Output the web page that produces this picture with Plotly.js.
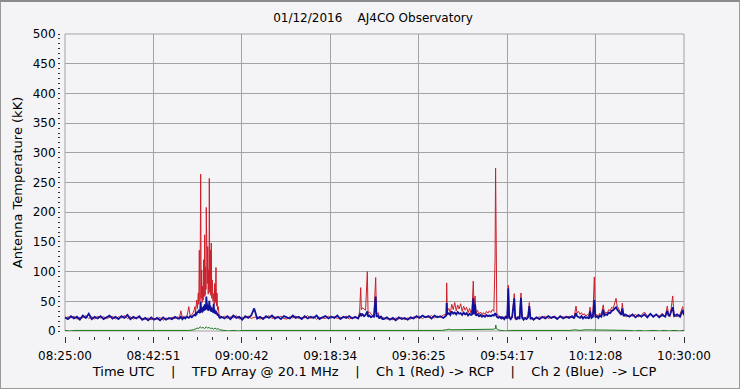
<!DOCTYPE html>
<html><head><meta charset="utf-8">
<script src="https://cdn.plot.ly/plotly-3.0.1.min.js"></script>
<style>
html,body{margin:0;padding:0;background:#f4f4f6;}
#wrap{position:relative;width:740px;height:389px;}
#chart{width:740px;height:389px;}
#frame{position:absolute;left:0;top:0;width:740px;height:389px;box-sizing:border-box;border:1px solid #9a9a9a;border-top:2px solid #8a8a8a;pointer-events:none;}
</style></head>
<body><div id="wrap"><div id="chart"></div><div id="frame"></div></div>
<script>
// Date of observation and axis ticks
const obsDate = [2016, 0, 12];
const startTime = "08:25:00";
const endTime = "10:30:00";
const tickLabels = ["08:25:00","08:42:51","09:00:42","09:18:34","09:36:25","09:54:17","10:12:08","10:30:00"];

// minutes after 08:25:00 UTC (shared by Ch 1 and Ch 2)
const minutesAfterStart = [
  0,0.6,1.2,1.8,2.4,3,3.6,4.2,4.8,5.4, 6,6.6,7.2,7.8,8.4,9,9.6,10.2,10.8,11.4, 12,12.6,13.2,13.8,14.4,15,15.6,16.2,16.8,17.4, 18,18.6,19.2,19.8,20.4,21,21.6,22.2,22.8,
  23.1,23.4,23.7,24,24.3,24.6,25,25.3,25.6,25.9,26.1,
  26.25,26.35,26.45,26.6,26.75,26.92,27.02,27.12,27.26,27.40, 27.50,27.60,27.70,27.81,27.91,28.01,28.11,28.21,28.31,28.41, 28.47,28.53,28.60,28.68,28.75,28.82,28.92,29.02,29.08,29.14, 29.24,29.34,29.44,29.54,29.64,29.75,29.89,30.03,30.13,30.23, 30.36,30.49,30.59,30.69,30.82,30.96,31.1,31.3,
  31.6,32.2,32.8,33.4,34,34.6,35.2,35.8,36.4,37, 37.6,38.2,38.8,39.4,40,40.6,41.2,41.8,42.4,43, 43.6,44.2,44.8,45.4,46,46.6,47.2,47.8,48.4,49, 49.6,50.2,50.8,51.4,52,52.6,53.2,53.8,54.4,55, 55.6,56.2,56.8,57.4,58,58.6,
  59.2,59.5,59.71,59.85,60.1,60.4,60.7,61.05,61.2,61.5, 61.8,62.1,62.4,62.74,62.9,63.2,63.5,63.8,64.1,
  64.4,65,65.6,66.2,66.8,67.4,68,68.6,69.2,69.8, 70.4,71,71.6,72.2,72.8,73.4,74,74.6,75.2,75.8, 76.4,
  77,77.08,77.2,77.5,77.8,78.1,78.4,78.7,79,79.3, 79.6,79.9,80.2,80.5,80.8,81.1,81.4,81.7,82,82.2, 82.45,82.6,82.8,83,83.3,83.6,83.9,84.2,84.5,84.8, 85.1,85.4,85.7,86,86.3,86.6,86.85,86.95,87.05,87.2, 87.5,
  87.8,88.1,88.4,88.7,89,89.3,89.52,89.7,90,90.3, 90.73,90.9,91.2,91.5,91.8,92.08,92.3,92.6,92.9,93.2, 93.5,93.76,94,94.3,94.6,
  95.2,95.8,96.4,97,97.6,98.2,98.8,99.4,100,100.6, 101.2,101.8,102.4,
  102.8,103.19,103.4,103.7,104,104.3,104.6,104.9,105.2,105.5, 105.8,106.02,106.3,106.6,106.89,107.1,107.4,107.7,108,108.3, 108.7,108.9,109.2,109.5,109.8,110.1,110.4,110.7,111,111.28, 111.5,111.8,112.1,112.35,112.54,112.8,113.1,
  113.4,114,114.6,115.2,115.8,116.4,117,117.6,118.2,118.8, 119.4,120,120.6,121.2,121.63,121.9,122.2,122.72,123,123.6, 124.2,124.74,125
];

// Ch 1 (Red) -> RCP, antenna temperature in kK
const ch1RCP = [
  21,24,22,25,20,23,22,26,21,24, 20,25,22,24,21,23,25,20,24,22, 26,21,24,20,23,22,21,20,22,19, 21,20,23,18,22,20,23,21,24,
  22,34,23,22,25,23,41,24,27,31,36,
  41,30,46,52,38,64,45,136,50,264, 55,103,48,75,52,120,58,162,60,108, 70,208,95,204,80,142,62,103,70,257, 65,136,60,148,55,86,50,63,45,80, 48,107,42,64,35,41,28,25,
  22,25,21,24,22,26,20,23,22,25, 21,23,24,20,23,22,26,21,24,22, 25,21,20,24,22,25,21,23,22,26, 21,24,20,23,22,21,25,22,24,21, 23,22,25,20,23,22,
  23,32,73,36,39,37,35,100,30,32, 28,26,29,90,27,31,24,22,23,
  22,20,21,19,22,20,23,19,22,20, 24,22,25,21,24,23,26,22,25,23, 27,
  28,81,33,38,30,45,36,48,34,44, 37,46,33,42,35,40,31,38,30,36, 84,33,59,30,35,28,32,27,31,28, 33,30,34,31,36,33,122,274,122,30, 26,
  22,25,21,24,22,23,77,21,24,22, 63,20,23,21,24,64,20,23,21,24, 22,48,21,23,20,
  21,24,22,25,21,23,25,22,23,24, 22,25,23,
  23,42,30,33,28,31,27,29,25,28, 26,40,25,27,91,26,28,25,30,27, 44,29,32,30,36,34,40,38,46,55, 42,37,33,29,47,27,25,
  24,27,25,28,24,27,32,25,28,24, 27,25,30,24,42,26,24,59,26,24, 28,41,26
];

// Ch 2 (Blue) -> LCP, antenna temperature in kK
const ch2LCP = [
  23,20,25,21,24,19,26,22,29,20, 24,21,25,20,23,26,21,24,20,25, 22,27,20,24,21,25,19,22,18,23, 19,22,18,23,19,22,20,24,21,
  21,24,20,23,21,24,22,25,23,26,27,
  28,25,30,29,33,31,36,34,30,49, 32,38,31,40,33,42,34,45,35,41, 37,58,40,47,36,44,34,42,38,51, 35,43,33,40,32,38,31,46,30,36, 29,34,28,31,26,28,24,22,
  24,21,25,20,26,22,24,19,25,22, 26,38,21,24,20,25,22,26,21,24, 20,25,23,21,26,22,24,20,25,21, 24,22,26,20,23,25,21,24,22,26, 20,24,22,25,21,24,
  21,25,30,26,28,25,27,33,24,26, 23,25,24,58,24,26,21,25,20,
  20,23,19,22,18,23,20,22,19,23, 21,25,22,26,23,25,21,26,23,25, 22,
  26,47,28,30,27,33,29,31,28,32, 29,30,27,31,28,30,26,29,27,28, 55,28,45,26,28,25,27,24,26,24, 27,25,26,25,27,26,30,28,29,24, 22,
  24,21,23,20,24,21,72,23,20,24, 55,23,19,24,20,56,23,19,22,20, 23,42,20,22,19,
  23,20,24,21,25,22,24,20,25,21, 24,22,25,
  21,30,25,24,22,25,21,24,22,23, 21,33,22,24,52,23,25,22,26,24, 36,26,28,27,31,30,34,35,38,40, 36,33,30,27,38,25,28,
  27,24,28,23,27,24,28,23,29,24, 28,23,27,24,34,25,28,40,25,28, 24,35,27
];

// difference channel (green), own time base
const diffMinutes = [
  0,1,2,3,4,5,6,7,8,9,10,11,12,13,14,15,16,17,18,19,20,21,22,23,24,25,26,
  26.4,26.7,27,27.3,27.6,27.9,28.2,28.5,28.8,29.1,29.4,29.7,30,30.3,30.6,30.9,31.2,
  32,33,34,35,36,37,38,39,40,41,42,43,44,45,46,47,48,49,50,51,52,53,54,55,56,57,58,59,60,61,62,63,64,65,66,67,68,69,70,71,72,73,74,75,76,
  77,77.5,78,78.5,79,79.5,80,80.5,81,81.5,82,82.5,83,83.5,84,84.5,85,85.5,86,86.5,86.9,87,87.1,87.5,
  88,89,90,91,92,93,94,95,96,97,98,99,100,101,102,
  103,104,105,106,107,108,109,110,111,112,113,
  114,115,116,117,118,119,120,121,122,123,124,125
];
const diffValues = [
  1,0,1,1,0,1,0,1,1,0,1,0,0,1,0,1,1,0,1,0,1,1,0,1,0,1,2,
  3,5,4,7,5,6,4,7,5,6,4,5,3,5,3,4,2,
  1,0,1,0,1,1,0,1,0,1,0,1,1,0,1,0,1,0,1,1,0,1,0,1,0,1,1,0,1,0,1,0,1,1,0,1,0,1,0,1,1,0,1,0,1,
  2,3,2,2,3,2,3,2,2,3,2,3,2,2,3,2,2,3,2,3,4,10,4,2,
  1,0,1,1,0,1,0,1,0,1,1,0,1,0,1,
  2,1,2,2,1,2,2,1,2,2,1,
  1,0,1,0,1,1,0,1,0,1,0,1
];

const [yy, mo, dd] = obsDate;
function toMs(hms){ const p = hms.split(":").map(Number); return Date.UTC(yy, mo, dd, p[0], p[1], p[2]); }
const t0 = toMs(startTime), t1 = toMs(endTime);
const xMain = minutesAfterStart.map(m => t0 + m * 60000);
const xDiff = diffMinutes.map(m => t0 + m * 60000);
const tickVals = tickLabels.map(toMs);
const majorStep = (t1 - t0) / (tickLabels.length - 1);

const font = "DejaVu Sans, Verdana, sans-serif";
const traces = [
  {x: xMain, y: ch1RCP, type: "scatter", mode: "lines", line: {color: "#cc1f2b", width: 1}, hoverinfo: "skip"},
  {x: xMain, y: ch2LCP, type: "scatter", mode: "lines", line: {color: "#10109a", width: 1.8}, hoverinfo: "skip"},
  {x: xDiff, y: diffValues, type: "scatter", mode: "lines", line: {color: "#1b7a1b", width: 1}, hoverinfo: "skip"}
];
const plotW = 740 - 60 - 56, plotH = 389 - 34 - 53;
const layout = {
  width: 740, height: 389,
  margin: {l: 60, r: 56, t: 34, b: 53},
  paper_bgcolor: "#f4f4f6", plot_bgcolor: "#f4f4f6",
  showlegend: false,
  font: {family: font, size: 12, color: "#000"},
  title: {text: "01/12/2016\u00a0\u00a0\u00a0\u00a0AJ4CO Observatory", font: {family: font, size: 12, color: "#000"},
          xref: "container", x: 0.504, xanchor: "center", yref: "container", y: (389 - 18) / 389, yanchor: "middle"},
  xaxis: {
    type: "date", range: [t0, t1], domain: [5 / plotW, 1], anchor: "free", position: 0,
    tickmode: "array", tickvals: tickVals, ticktext: tickLabels,
    ticks: "outside", ticklen: 6, tickcolor: "#333", tickwidth: 1, ticklabelstandoff: 3,
    minor: {tick0: t0, dtick: majorStep / 6, ticks: "outside", ticklen: 3, tickcolor: "#333", showgrid: false},
    showgrid: true, gridcolor: "#a3a3a3", gridwidth: 1, zeroline: false, showline: false,
    tickfont: {family: font, size: 12, color: "#000"},
    title: {text: "Time UTC\u00a0\u00a0\u00a0\u00a0|\u00a0\u00a0\u00a0\u00a0TFD Array @ 20.1 MHz\u00a0\u00a0\u00a0\u00a0|\u00a0\u00a0\u00a0\u00a0Ch 1 (Red) -> RCP\u00a0\u00a0\u00a0\u00a0|\u00a0\u00a0\u00a0\u00a0Ch 2 (Blue)\u00a0\u00a0-> LCP",
            font: {family: font, size: 13, color: "#000"}, standoff: 4}
  },
  yaxis: {
    range: [0, 500], domain: [5 / plotH, 1], anchor: "free", position: 0,
    tickmode: "linear", tick0: 0, dtick: 50,
    ticks: "outside", ticklen: 2, tickcolor: "#333",
    minor: {dtick: 50 / 6, ticks: "outside", ticklen: 2, tickcolor: "#333", showgrid: false},
    showgrid: true, gridcolor: "#a3a3a3", gridwidth: 1, zeroline: false, showline: false,
    tickfont: {family: font, size: 12, color: "#000"},
    title: {text: "Antenna Temperature (kK)", font: {family: font, size: 13, color: "#000"}, standoff: 6}
  },
  shapes: [
    {type: "rect", xref: "x domain", yref: "y domain", x0: 0, x1: 1, y0: 0, y1: 1, line: {color: "#a3a3a3", width: 1}, layer: "below"}
  ]
};
Plotly.newPlot("chart", traces, layout, {staticPlot: true, displayModeBar: false});
</script>
</body></html>
